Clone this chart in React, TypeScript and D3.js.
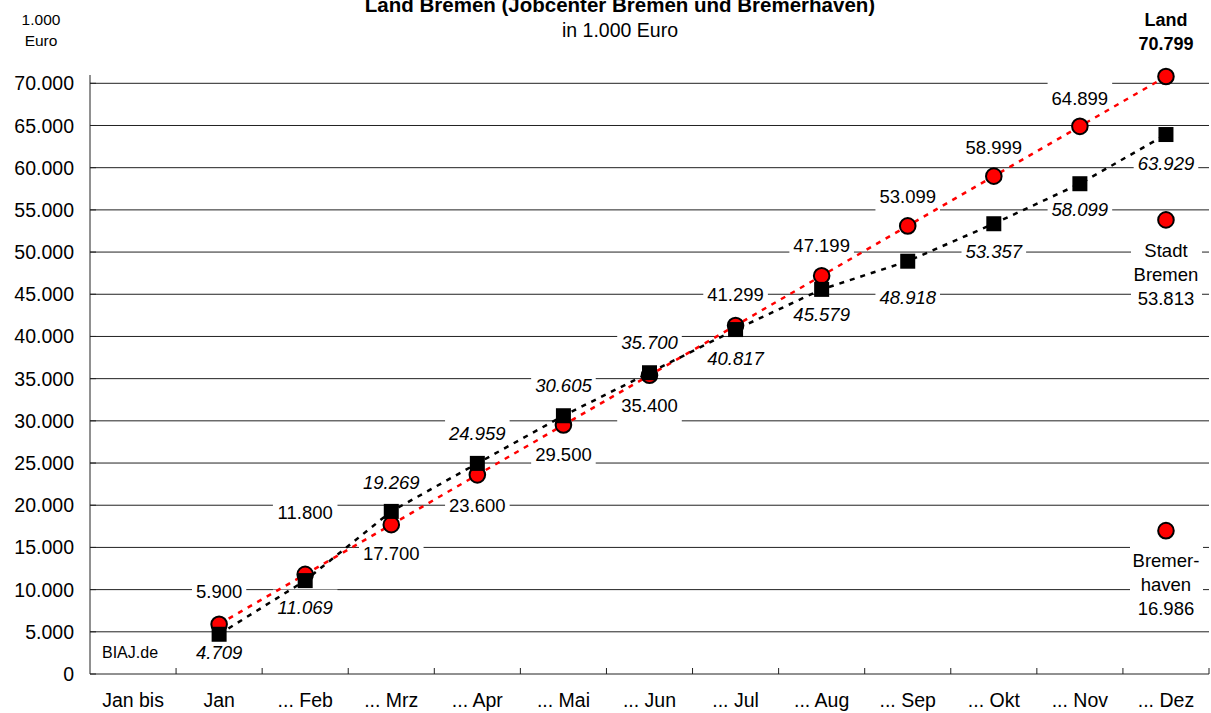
import React from "react";
import * as d3 from "d3";

// categories on the x axis
const months = ["Jan bis", "Jan", "... Feb", "... Mrz", "... Apr", "... Mai", "... Jun", "... Jul", "... Aug", "... Sep", "... Okt", "... Nov", "... Dez"];
const seriesMonths = months.slice(1);

// Land Bremen, planned (red circles) and spent (black squares), cumulative, 1.000 Euro
const budgetLand = [5900, 11800, 17700, 23600, 29500, 35400, 41299, 47199, 53099, 58999, 64899, 70799];
const spentLand = [4709, 11069, 19269, 24959, 30605, 35700, 40817, 45579, 48918, 53357, 58099, 63929];

// split of the year total at Dez
const splitNames = [["Stadt", "Bremen"], ["Bremer-", "haven"]];
const splitValues = [53813, 16986];

const yTicks = [0, 5000, 10000, 15000, 20000, 25000, 30000, 35000, 40000, 45000, 50000, 55000, 60000, 65000, 70000];

// label placement (px above/below the mark)
const budgetLabelDy = [-33, -62, 29, 30, 29, 30, -31, -30, -30, -29, -28, 0];
const spentLabelDy = [18, 27, -29, -30, -30, -30, 29, 25, 36, 28, 26, 29];

const W = 1211;
const H = 713;
const font = "'Liberation Sans', Arial, Helvetica, sans-serif";

const de = d3.formatLocale({ decimal: ",", thousands: ".", grouping: [3], currency: ["", " €"] });
const fmt = de.format(",d");

const textWidth = (s: string, fs: number) =>
  s.split("").reduce((a, c) => a + (c === "." ? 0.278 : 0.556), 0) * fs;

const App = () => {
  const x = d3.scaleBand<string>().domain(months).range([90, 1209]).padding(0);
  const y = d3.scaleLinear().domain([0, 70000]).range([674, 83.3]);
  const cx = (m: string) => (x(m) ?? 0) + x.bandwidth() / 2;

  const line = d3.line<number>()
    .x((_, i) => cx(seriesMonths[i]))
    .y(d => y(d));

  const labelFs = 18.5;
  const labels: { text: string; x: number; y: number; italic: boolean }[] = [];
  budgetLand.forEach((v, i) => {
    if (i === budgetLand.length - 1) return;
    labels.push({ text: fmt(v), x: cx(seriesMonths[i]), y: y(v) + budgetLabelDy[i], italic: false });
  });
  spentLand.forEach((v, i) => {
    labels.push({ text: fmt(v), x: cx(seriesMonths[i]), y: y(v) + spentLabelDy[i], italic: true });
  });

  const dezX = cx("... Dez");

  return (
    <svg width={W} height={H} style={{ position: "absolute", left: 0, top: 0, background: "#fff" }} fontFamily={font}>
      {/* titles */}
      <text x={620} y={12} textAnchor="middle" fontSize={20.5} fontWeight="bold">Land Bremen (Jobcenter Bremen und Bremerhaven)</text>
      <text x={620} y={37} textAnchor="middle" fontSize={19.5}>in 1.000 Euro</text>
      <text x={41} y={25} textAnchor="middle" fontSize={15.5}>1.000</text>
      <text x={41} y={46} textAnchor="middle" fontSize={15.5}>Euro</text>

      {/* grid */}
      {yTicks.filter(t => t > 0).map(t => (
        <line key={t} x1={90} x2={1209} y1={y(t)} y2={y(t)} stroke="#222" strokeWidth={1} />
      ))}

      {/* y labels */}
      {yTicks.map(t => (
        <text key={t} x={74} y={y(t)} dy="0.36em" textAnchor="end" fontSize={19.5}>{fmt(t)}</text>
      ))}

      {/* label boxes */}
      {labels.map((l, i) => {
        const w = textWidth(l.text, labelFs) + 8;
        return <rect key={i} x={l.x - w / 2} y={l.y - 18} width={w} height={36} fill="#fff" />;
      })}
      <rect x={1131} y={233} width={71} height={78} fill="#fff" />
      <rect x={1130} y={543} width={73} height={78} fill="#fff" />

      {/* axes */}
      <line x1={90} x2={90} y1={75} y2={674} stroke="#222" />
      <line x1={90} x2={1209} y1={674} y2={674} stroke="#222" />
      {yTicks.map(t => (
        <line key={t} x1={90} x2={96} y1={y(t)} y2={y(t)} stroke="#222" />
      ))}
      {months.slice(1).concat(["end"]).map((m, i) => {
        const xx = m === "end" ? 1209 : x(m) ?? 0;
        return <line key={i} x1={xx} x2={xx} y1={668} y2={674} stroke="#222" />;
      })}
      {months.map(m => (
        <text key={m} x={cx(m)} y={707} textAnchor="middle" fontSize={19.5}>{m}</text>
      ))}

      {/* series lines */}
      <path d={line(budgetLand) ?? ""} fill="none" stroke="#ff0000" strokeWidth={2.5} strokeDasharray="5 6" />
      <path d={line(spentLand) ?? ""} fill="none" stroke="#000" strokeWidth={2.5} strokeDasharray="5 6" />

      {/* marks */}
      {budgetLand.map((v, i) => (
        <circle key={i} cx={cx(seriesMonths[i])} cy={y(v)} r={7.8} fill="#ff0000" stroke="#000" strokeWidth={2} />
      ))}
      {splitValues.map((v, i) => (
        <circle key={i} cx={dezX} cy={y(v)} r={7.8} fill="#ff0000" stroke="#000" strokeWidth={2} />
      ))}
      {spentLand.map((v, i) => (
        <rect key={i} x={cx(seriesMonths[i]) - 7.5} y={y(v) - 7.5} width={15} height={15} fill="#000" />
      ))}

      {/* data labels */}
      {labels.map((l, i) => (
        <text key={i} x={l.x} y={l.y} dy="0.36em" textAnchor="middle" fontSize={labelFs} fontStyle={l.italic ? "italic" : "normal"}>{l.text}</text>
      ))}
      <text x={dezX} y={26} textAnchor="middle" fontSize={18} fontWeight="bold">Land</text>
      <text x={dezX} y={50} textAnchor="middle" fontSize={18} fontWeight="bold">{fmt(budgetLand[budgetLand.length - 1])}</text>
      {splitValues.map((v, i) => {
        const top = y(v) + 30;
        return (
          <g key={i}>
            {splitNames[i].map((s, j) => (
              <text key={j} x={dezX} y={top + j * 24} dy="0.36em" textAnchor="middle" fontSize={labelFs}>{s}</text>
            ))}
            <text x={dezX} y={top + 48} dy="0.36em" textAnchor="middle" fontSize={labelFs}>{fmt(v)}</text>
          </g>
        );
      })}

      <text x={102} y={658} fontSize={16}>BIAJ.de</text>
    </svg>
  );
};

export default App;
